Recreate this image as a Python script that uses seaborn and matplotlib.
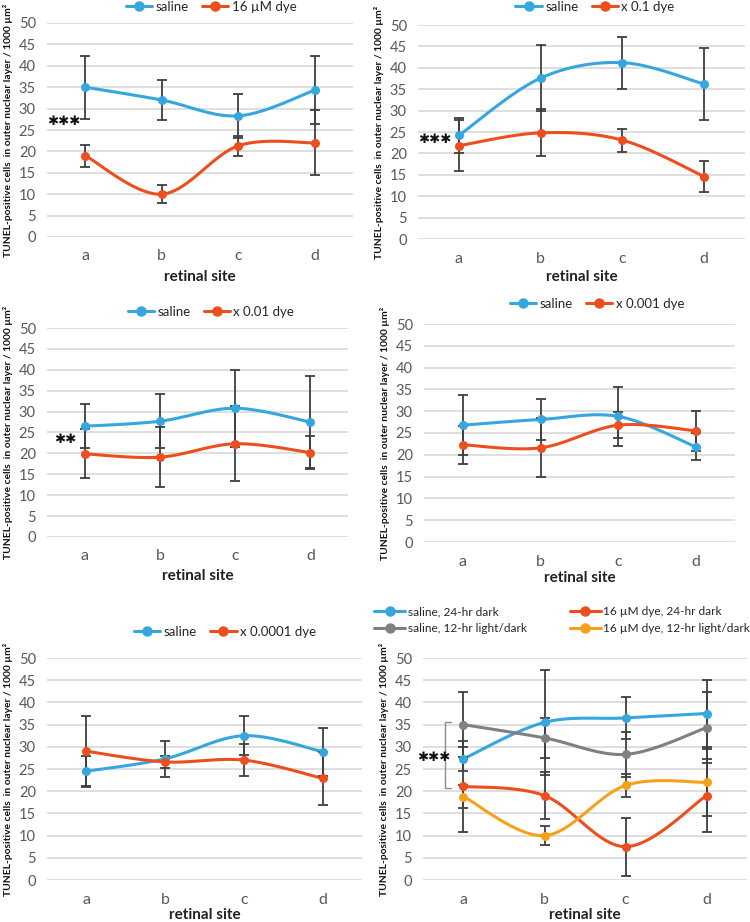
import numpy as np
import pandas as pd
import matplotlib
matplotlib.use("Agg")
import matplotlib.pyplot as plt
from matplotlib.lines import Line2D
import seaborn as sns

sites = ["a", "b", "c", "d"]
yticks = [0, 5, 10, 15, 20, 25, 30, 35, 40, 45, 50]

# Panel 1: 16 uM dye
p1_saline = [35.0, 32.0, 28.3, 34.3]
p1_saline_err = [7.4, 4.6, 5.2, 8.0]
p1_dye = [19.0, 10.0, 21.3, 22.0]
p1_dye_err = [2.6, 2.1, 2.4, 7.6]
# Panel 2: x 0.1 dye
p2_saline = [24.2, 37.6, 41.2, 36.2]
p2_saline_err = [4.1, 7.7, 6.1, 8.5]
p2_dye = [21.8, 24.8, 23.1, 14.6]
p2_dye_err = [6.0, 5.5, 2.7, 3.6]
# Panel 3: x 0.01 dye
p3_saline = [26.5, 27.7, 30.8, 27.5]
p3_saline_err = [5.2, 6.5, 9.2, 11.1]
p3_dye = [19.9, 19.1, 22.3, 20.2]
p3_dye_err = [5.9, 7.2, 9.0, 3.9]
# Panel 4: x 0.001 dye
p4_saline = [26.8, 28.1, 28.8, 21.8]
p4_saline_err = [6.9, 4.6, 6.8, 3.1]
p4_dye = [22.3, 21.6, 26.8, 25.5]
p4_dye_err = [4.3, 6.8, 3.0, 4.6]
# Panel 5: x 0.0001 dye
p5_saline = [24.5, 27.3, 32.5, 28.9]
p5_saline_err = [3.5, 4.1, 4.4, 5.4]
p5_dye = [29.0, 26.6, 27.0, 22.9]
p5_dye_err = [7.9, 1.3, 3.6, 5.9]
# Panel 6: light conditions
p6_saline_dark = [27.3, 35.5, 36.5, 37.5]
p6_saline_dark_err = [2.7, 11.8, 4.8, 7.6]
p6_saline_ld = [35.0, 32.0, 28.3, 34.3]
p6_saline_ld_err = [7.3, 4.5, 5.1, 8.0]
p6_dye_dark = [21.1, 19.0, 7.5, 19.0]
p6_dye_dark_err = [10.3, 5.3, 6.5, 8.3]
p6_dye_ld = [18.8, 10.0, 21.3, 22.0]
p6_dye_ld_err = [2.5, 2.1, 2.6, 7.6]

BLUE = "#36A6DE"
RED = "#EC4E1E"
GREY = "#808080"
ORANGE = "#F7A11B"
ERR = "#3F3F3F"
FONT = "Lato"

sns.set_theme(style="white")
plt.rcParams["font.family"] = [FONT, "DejaVu Sans"]

W, H = 750, 922
fig = plt.figure(figsize=(W / 100, H / 100), dpi=100)


def smooth(xs, ys, n=40):
    pts = np.column_stack([xs, ys]).astype(float)
    ext = np.vstack([pts[0], pts, pts[-1]])
    out = []
    t = np.linspace(0, 1, n)[:, None]
    for i in range(len(pts) - 1):
        p0, p3 = ext[i + 1], ext[i + 2]
        c1 = p0 + (ext[i + 2] - ext[i]) / 6.0
        c2 = p3 - (ext[i + 3] - ext[i + 1]) / 6.0
        seg = ((1 - t) ** 3) * p0 + 3 * ((1 - t) ** 2) * t * c1 + 3 * (1 - t) * t ** 2 * c2 + t ** 3 * p3
        out.append(seg)
    arr = np.vstack(out)
    return arr[:, 0], arr[:, 1]


def make_ax(left, right, y50, y0, xlab_off=38):
    hpx = y0 - y50
    ax = fig.add_axes([left / W, 1 - y0 / H, (right - left) / W, hpx / H])
    ax.set_xlim(-0.5, 3.5)
    ax.set_ylim(0, 50)
    ax.set_yticks(yticks)
    ax.set_yticklabels([str(v) for v in yticks])
    ax.set_xticks(range(4))
    ax.set_xticklabels(sites)
    for s in ax.spines.values():
        s.set_visible(False)
    ax.grid(axis="y", color="#D9D9D9", lw=1.2)
    ax.set_axisbelow(True)
    ax.tick_params(axis="y", labelsize=10.5, colors="#595959", length=0, pad=8)
    ax.tick_params(axis="x", labelsize=11.5, colors="#595959", length=0, pad=9)
    ax.set_ylabel("TUNEL-positive cells  in outer nuclear layer / 1000 µm²",
                  fontsize=7.4, fontweight="bold", color="#111111", labelpad=4)
    ax._xlab_off = xlab_off / hpx
    return ax


def finish_xlabel(ax):
    lab = ax.set_xlabel("retinal site", fontsize=11, fontweight="bold", color="#222222")
    lab.set_va("center")
    ax.xaxis.set_label_coords(0.5, -ax._xlab_off)


def draw_series(ax, vals, errs, color, name):
    x = np.arange(len(vals))
    sx, sy = smooth(x, vals)
    ax.plot(sx, sy, color=color, lw=2.2, solid_capstyle="round", zorder=3, clip_on=False)
    ax.errorbar(x, vals, yerr=errs, fmt="none", ecolor=ERR, elinewidth=1.3,
                capsize=3.8, capthick=1.3, zorder=4, clip_on=False)
    df = pd.DataFrame({"x": x, "y": vals, "s": name})
    sns.scatterplot(data=df, x="x", y="y", color=color, s=42, edgecolor=color,
                    linewidth=0, zorder=5, ax=ax, legend=False, clip_on=False)


def handle(color):
    return Line2D([0], [0], color=color, lw=2.2, marker="o", markersize=6.5)


def legend(labels, colors, cx, cy):
    fig.legend([handle(c) for c in colors], labels, loc="center",
               bbox_to_anchor=(cx / W, 1 - cy / H), ncol=2, frameon=False,
               fontsize=9.5, handlelength=2.0, handletextpad=0.25,
               columnspacing=1.0, borderpad=0, labelspacing=0.25)


def stars(ax, txt, x, y):
    ax.text(x, y, txt, fontsize=9.5, ha="left", va="center",
            color="#111111", family="DejaVu Sans")


panels = [
    (47, 353, 23, 237, p1_saline, p1_saline_err, p1_dye, p1_dye_err, "16 µM dye", (211, 7), 40),
    (418, 745, 25, 239, p2_saline, p2_saline_err, p2_dye, p2_dye_err, "x 0.1 dye", (595, 7), 38),
    (47, 348, 328, 537, p3_saline, p3_saline_err, p3_dye, p3_dye_err, "x 0.01 dye", (211, 312), 39),
    (424, 735, 324, 542, p4_saline, p4_saline_err, p4_dye, p4_dye_err, "x 0.001 dye", (597, 304), 36),
    (47, 362, 658, 880, p5_saline, p5_saline_err, p5_dye, p5_dye_err, "x 0.0001 dye", (225, 632), 35),
]

axes = []
for (l, r, y50, y0, sal, sale, dye, dyee, lab, (cx, cy), off) in panels:
    ax = make_ax(l, r, y50, y0, off)
    draw_series(ax, sal, sale, BLUE, "saline")
    draw_series(ax, dye, dyee, RED, lab)
    finish_xlabel(ax)
    legend(["saline", lab], [BLUE, RED], cx, cy)
    axes.append(ax)

stars(axes[0], "✱✱✱", -0.5, 27.0)
stars(axes[1], "✱✱✱", -0.5, 23.2)
stars(axes[2], "✱✱", -0.4, 23.4)

ax6 = make_ax(423, 747, 658, 880, 35)
draw_series(ax6, p6_saline_dark, p6_saline_dark_err, BLUE, "saline, 24-hr dark")
draw_series(ax6, p6_saline_ld, p6_saline_ld_err, GREY, "saline, 12-hr light/dark")
draw_series(ax6, p6_dye_dark, p6_dye_dark_err, RED, "16 µM dye, 24-hr dark")
draw_series(ax6, p6_dye_ld, p6_dye_ld_err, ORANGE, "16 µM dye, 12-hr light/dark")
finish_xlabel(ax6)
stars(ax6, "✱✱✱", -0.57, 27.5)
ax6.plot([-0.15, -0.23, -0.23, -0.15], [35.5, 35.5, 20.8, 20.8], color="#8C8C8C", lw=1.0,
         clip_on=False)
fig.legend([handle(BLUE), handle(GREY), handle(RED), handle(ORANGE)],
           ["saline, 24-hr dark", "saline, 12-hr light/dark",
            "16 µM dye, 24-hr dark", "16 µM dye, 12-hr light/dark"],
           loc="center", bbox_to_anchor=(562 / W, 1 - 620 / H), ncol=2, frameon=False,
           fontsize=8.6, handlelength=2.6, handletextpad=0.2, columnspacing=3.6,
           borderpad=0, labelspacing=0.45)

fig.savefig("out.png", dpi=100, facecolor="white")
